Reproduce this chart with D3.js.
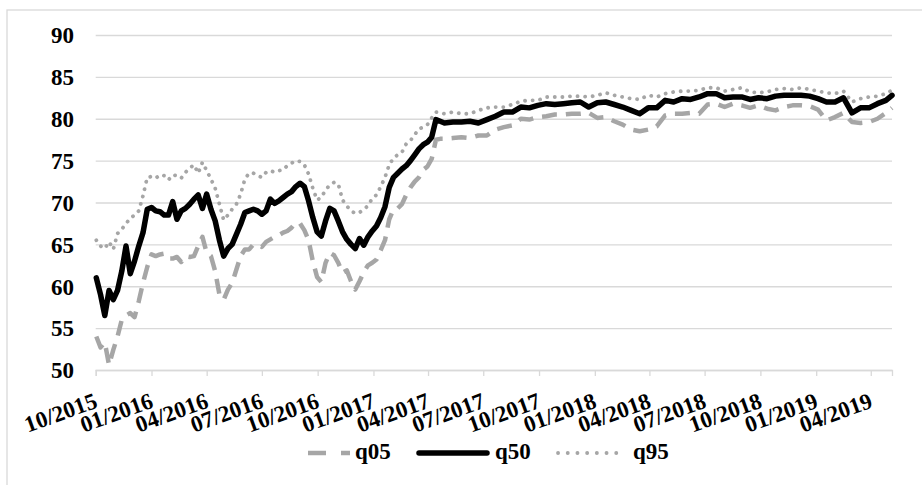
<!DOCTYPE html>
<html>
<head>
<meta charset="utf-8">
<script src="https://cdn.jsdelivr.net/npm/d3@7/dist/d3.min.js"></script>
<style>
  html, body { margin: 0; padding: 0; background: #fff; }
  svg { display: block; }
  text { font-family: "Liberation Serif", "Times New Roman", serif; font-weight: bold; fill: #000; }
</style>
</head>
<body>
<svg id="chart" width="922" height="485"></svg>
<script>
const dates = [
"2015-10-02","2015-10-09","2015-10-16","2015-10-23","2015-10-30","2015-11-06","2015-11-13","2015-11-20","2015-11-27","2015-12-04","2015-12-11","2015-12-18","2015-12-25",
"2016-01-01","2016-01-08","2016-01-15","2016-01-22","2016-01-29","2016-02-05","2016-02-12","2016-02-19","2016-02-26","2016-03-04","2016-03-11","2016-03-18","2016-03-25",
"2016-04-01","2016-04-08","2016-04-15","2016-04-22","2016-04-29","2016-05-06","2016-05-13","2016-05-20","2016-05-27","2016-06-03","2016-06-10","2016-06-17","2016-06-24",
"2016-07-01","2016-07-08","2016-07-15","2016-07-22","2016-07-29","2016-08-05","2016-08-12","2016-08-19","2016-08-26","2016-09-02","2016-09-09","2016-09-16","2016-09-23",
"2016-09-30","2016-10-07","2016-10-14","2016-10-21","2016-10-28","2016-11-04","2016-11-11","2016-11-18","2016-11-25","2016-12-02","2016-12-09","2016-12-16","2016-12-23",
"2016-12-30","2017-01-06","2017-01-13","2017-01-20","2017-01-27","2017-02-03","2017-02-10","2017-02-17","2017-02-24","2017-03-03","2017-03-10","2017-03-17","2017-03-24",
"2017-03-31","2017-04-07","2017-04-14","2017-04-21","2017-04-28",
"2017-05-12","2017-05-26","2017-06-09","2017-06-23","2017-07-07","2017-07-21","2017-08-04","2017-08-18","2017-09-01","2017-09-15","2017-09-29","2017-10-13","2017-10-27",
"2017-11-10","2017-11-24","2017-12-08","2017-12-22","2018-01-05","2018-01-19","2018-02-02","2018-02-16","2018-03-02","2018-03-16","2018-03-30","2018-04-13","2018-04-27",
"2018-05-11","2018-05-25","2018-06-08","2018-06-22","2018-07-06","2018-07-20","2018-08-03","2018-08-17","2018-08-31","2018-09-14","2018-09-28","2018-10-12","2018-10-26",
"2018-11-09","2018-11-23","2018-12-07","2018-12-21","2019-01-04","2019-01-18","2019-02-01","2019-02-15","2019-03-01","2019-03-15","2019-03-29","2019-04-12","2019-04-26","2019-05-06"
];

const q05 = [
54.0, 52.7, 53.3, 50.6, 52.4, 54.0, 56.0, 56.5, 56.8, 56.3, 58.2, 60.4, 62.3,
63.8, 63.6, 63.8, 63.9, 63.3, 63.3, 63.5, 62.9, 63.6, 63.5, 63.6, 64.8, 65.9,
64.0, 63.6, 61.8, 59.0, 58.4, 59.6, 60.4, 62.0, 63.6, 64.4, 64.4, 65.0, 64.9,
64.7, 65.3, 65.6, 65.9, 66.1, 66.4, 66.6, 67.0, 67.6, 67.5, 66.7, 65.5, 63.0,
61.1, 60.5, 62.8, 64.0, 63.7, 62.8, 61.6, 61.9, 60.6, 59.6, 60.6, 61.7, 62.5,
62.8, 63.2, 64.3, 65.5, 68.0, 69.2, 69.3, 69.8, 70.9, 71.8, 72.5, 73.0, 73.9,
74.3, 75.2, 77.5, 77.6, 77.6,
77.7, 77.8, 77.7, 78.0, 78.0, 78.7, 79.0, 79.2, 80.0, 79.9, 80.2, 80.3, 80.5,
80.5, 80.6, 80.6, 80.7, 80.1, 80.2, 79.7, 79.3, 78.7, 78.5, 78.7, 79.1, 80.4,
80.6, 80.6, 80.7, 80.6, 81.7, 81.8, 81.4, 81.8, 81.6, 81.3, 81.6, 81.2, 81.0,
81.4, 81.6, 81.6, 81.5, 81.1, 79.8, 80.2, 80.7, 79.6, 79.5, 79.6, 80.0, 80.7, 81.3
];

const q50 = [
61.0, 59.0, 56.5, 59.5, 58.4, 59.5, 61.8, 64.8, 61.5, 63.0, 64.8, 66.4, 69.2,
69.4, 69.0, 68.9, 68.5, 68.5, 70.1, 68.0, 69.0, 69.3, 69.8, 70.4, 70.9, 69.3,
71.0, 69.2, 67.8, 65.5, 63.6, 64.5, 65.0, 66.2, 67.4, 68.8, 69.0, 69.2, 69.0,
68.6, 69.0, 70.4, 69.9, 70.2, 70.6, 71.0, 71.3, 71.9, 72.3, 71.9, 70.2, 68.2,
66.5, 66.0, 67.8, 69.3, 69.0, 67.8, 66.5, 65.6, 65.0, 64.5, 65.7, 64.9, 65.9,
66.6, 67.2, 68.2, 69.5, 71.8, 73.0, 73.5, 74.0, 74.4, 75.0, 75.7, 76.4, 76.9,
77.2, 77.8, 79.9, 79.7, 79.5,
79.6, 79.6, 79.7, 79.5, 79.9, 80.3, 80.8, 80.8, 81.4, 81.3, 81.6, 81.8, 81.7,
81.8, 81.9, 82.0, 81.4, 81.9, 82.0, 81.7, 81.4, 81.0, 80.6, 81.3, 81.3, 82.2,
82.0, 82.4, 82.3, 82.6, 83.0, 83.0, 82.5, 82.6, 82.6, 82.3, 82.5, 82.4, 82.7,
82.8, 82.8, 82.8, 82.7, 82.4, 82.0, 82.0, 82.5, 80.7, 81.3, 81.3, 81.8, 82.2, 82.8
];

const q95 = [
65.5, 64.8, 64.5, 65.3, 64.4, 66.3, 66.8, 67.5, 68.1, 68.5, 69.0, 70.8, 73.0,
73.1, 72.9, 73.3, 73.2, 72.7, 73.3, 73.2, 72.9, 73.6, 74.1, 74.5, 73.5, 74.8,
73.8, 72.8, 71.7, 69.8, 67.9, 68.5, 69.2, 69.8, 71.0, 72.8, 73.5, 73.5, 73.2,
73.0, 73.6, 73.8, 73.6, 73.8, 73.9, 74.4, 74.7, 75.0, 74.9, 74.5, 73.4, 71.7,
70.3, 70.6, 71.5, 72.1, 72.4, 72.2, 70.3, 69.6, 69.0, 68.7, 68.8, 69.2, 69.6,
70.5, 70.9, 71.9, 73.0, 74.5, 75.3, 75.7, 76.0, 77.0, 77.4, 78.1, 78.8, 79.0,
79.3, 80.1, 80.8, 80.7, 80.6,
80.8, 80.6, 80.6, 81.0, 81.3, 81.4, 81.4, 81.7, 82.1, 82.2, 82.2, 82.6, 82.6,
82.6, 82.7, 82.7, 82.6, 82.8, 83.1, 82.8, 82.6, 82.4, 82.3, 82.8, 82.6, 83.0,
83.2, 83.3, 83.3, 83.4, 83.7, 83.7, 83.3, 83.5, 83.7, 83.2, 83.1, 83.2, 83.5,
83.6, 83.5, 83.7, 83.5, 83.3, 83.1, 83.0, 83.3, 82.0, 82.4, 82.6, 82.7, 83.0, 83.4
];

const seriesNames = ["q05", "q50", "q95"];
const xTickLabels = ["10/2015","01/2016","04/2016","07/2016","10/2016","01/2017","04/2017","07/2017","10/2017","01/2018","04/2018","07/2018","10/2018","01/2019","04/2019"];
const yTicks = [50, 55, 60, 65, 70, 75, 80, 85, 90];
const xDomain = ["2015-10-01", "2019-05-06"];

const parseDay = d3.timeParse("%Y-%m-%d");
const parseTick = d3.timeParse("%m/%Y");
const fmtTick = d3.timeFormat("%m/%Y");

const svg = d3.select("#chart");
const plot = { left: 95.7, right: 892, top: 35, bottom: 370 };
const gridColor = "#d9d9d9";
const gray = "#a6a6a6";
const fontFam = "'Liberation Serif', 'Times New Roman', serif";

// outer chart border
svg.append("rect")
  .attr("x", 7).attr("y", 10).attr("width", 960).attr("height", 520)
  .attr("fill", "#fff").attr("stroke", gridColor).attr("stroke-width", 1.3);

const x = d3.scaleTime().domain(xDomain.map(parseDay)).range([plot.left, plot.right]);
const y = d3.scaleLinear().domain([50, 90]).range([plot.bottom, plot.top]);

// y gridlines + labels
const yAxis = d3.axisLeft(y).tickValues(yTicks).tickSize(-(plot.right - plot.left)).tickFormat(d3.format("d"));
const gy = svg.append("g").attr("transform", `translate(${plot.left},0)`).call(yAxis);
gy.select(".domain").remove();
gy.selectAll(".tick line").attr("stroke", gridColor).attr("stroke-width", 1.3);
gy.selectAll(".tick text")
  .attr("x", 74 - plot.left)
  .attr("dy", "0.34em")
  .style("font-size", "23px")
  .style("font-family", fontFam)
  .style("font-weight", "bold")
  .attr("fill", "#000");

// x axis
const xAxis = d3.axisBottom(x).tickValues(xTickLabels.map(parseTick)).tickSize(6).tickFormat(fmtTick);
const gx = svg.append("g").attr("transform", `translate(0,${plot.bottom})`).call(xAxis);
gx.select(".domain").attr("stroke", gridColor).attr("stroke-width", 1.3);
gx.selectAll(".tick line").attr("stroke", gridColor).attr("stroke-width", 1.3);
gx.selectAll(".tick text")
  .attr("y", 0).attr("dy", 0)
  .attr("text-anchor", "end")
  .attr("transform", "translate(2.5,37) rotate(-20)")
  .style("font-size", "23px")
  .style("font-family", fontFam)
  .style("font-weight", "bold")
  .attr("fill", "#000");

// lines
const parsedDates = dates.map(parseDay);
const styles = {
  q05: { stroke: gray, width: 4.5, dash: "15,9", cap: "butt" },
  q50: { stroke: "#000", width: 5.5, dash: null, cap: "round" },
  q95: { stroke: gray, width: 3.8, dash: "0.1,7.5", cap: "round" }
};
const valuesBySeries = { q05, q50, q95 };
const line = d3.line().x(d => x(d[0])).y(d => y(d[1])).curve(d3.curveLinear);

["q05", "q95", "q50"].forEach(name => {
  const s = styles[name];
  const pts = parsedDates.map((d, i) => [d, valuesBySeries[name][i]]);
  svg.append("path")
    .datum(pts)
    .attr("d", line)
    .attr("fill", "none")
    .attr("stroke", s.stroke)
    .attr("stroke-width", s.width)
    .attr("stroke-linejoin", "round")
    .attr("stroke-linecap", s.cap)
    .attr("stroke-dasharray", s.dash);
});

// legend
const legendY = 453;
const legendItems = [
  { name: "q05", x1: 308, x2: 350, tx: 355 },
  { name: "q50", x1: 419, x2: 487, tx: 495 },
  { name: "q95", x1: 558, x2: 620, tx: 633 }
];
const lg = svg.append("g");
legendItems.forEach(it => {
  const s = styles[it.name];
  lg.append("line")
    .attr("x1", it.x1).attr("x2", it.x2).attr("y1", legendY).attr("y2", legendY)
    .attr("stroke", s.stroke).attr("stroke-width", s.width)
    .attr("stroke-linecap", s.cap)
    .attr("stroke-dasharray", it.name === "q95" ? "0.1,9.6" : (it.name === "q05" ? "18,15" : null));
  lg.append("text")
    .attr("x", it.tx).attr("y", 459)
    .style("font-size", "23px")
    .style("font-family", fontFam)
    .style("font-weight", "bold")
    .text(it.name);
});
</script>
</body>
</html>
